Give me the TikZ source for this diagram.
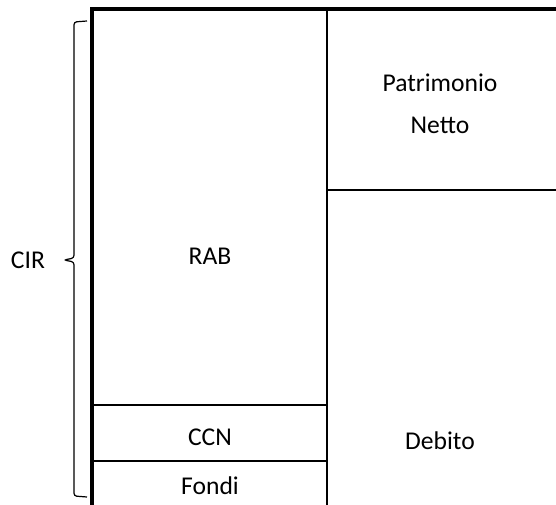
\documentclass[tikz,border=0pt]{standalone}
\usepackage{fontspec}
\setmainfont{Carlito}
\usetikzlibrary{positioning}
\begin{document}
\begin{tikzpicture}[
  x=0.75pt, y=-0.75pt,
  txt/.style={font=\fontsize{19.2}{31.5}\selectfont, align=center, inner sep=0pt},
  frame/.style={line width=2.5pt},
  split/.style={line width=1pt},
  brace/.style={line width=0.9pt, rounded corners=2pt}
]
\useasboundingbox (0,0) rectangle (556,505);

% Frame and partitions
\coordinate (tl) at (92,9);
\coordinate (tr) at (556,9);
\coordinate (bl) at (92,505);
\coordinate (mt) at (327,9);
\coordinate (mb) at (327,505);
\draw[frame] (tr) -- (tl) -- (bl);
\draw[split] (mt) -- (mb);
\draw[split] (327,190) -- (556,190);
\draw[split] (92,405) -- (327,405);
\draw[split] (92,461) -- (327,461);

% Labels
\node[txt] (netto) at (440,104) {Patrimonio\\Netto};
\node[txt] (rab) at (210,256) {RAB};
\node[txt] (debito) at (440,441) {Debito};
\node[txt] (ccn) at (210,437) {CCN};
\node[txt] (fondi) at (210,486) {Fondi};
\node[txt] (cir) at (28,260) {CIR};

% Brace
\draw[brace] (87,21) -- (74,22) -- (74,258) -- (64,260) -- (74,262) -- (74,496) -- (87,497);

\end{tikzpicture}
\end{document}
